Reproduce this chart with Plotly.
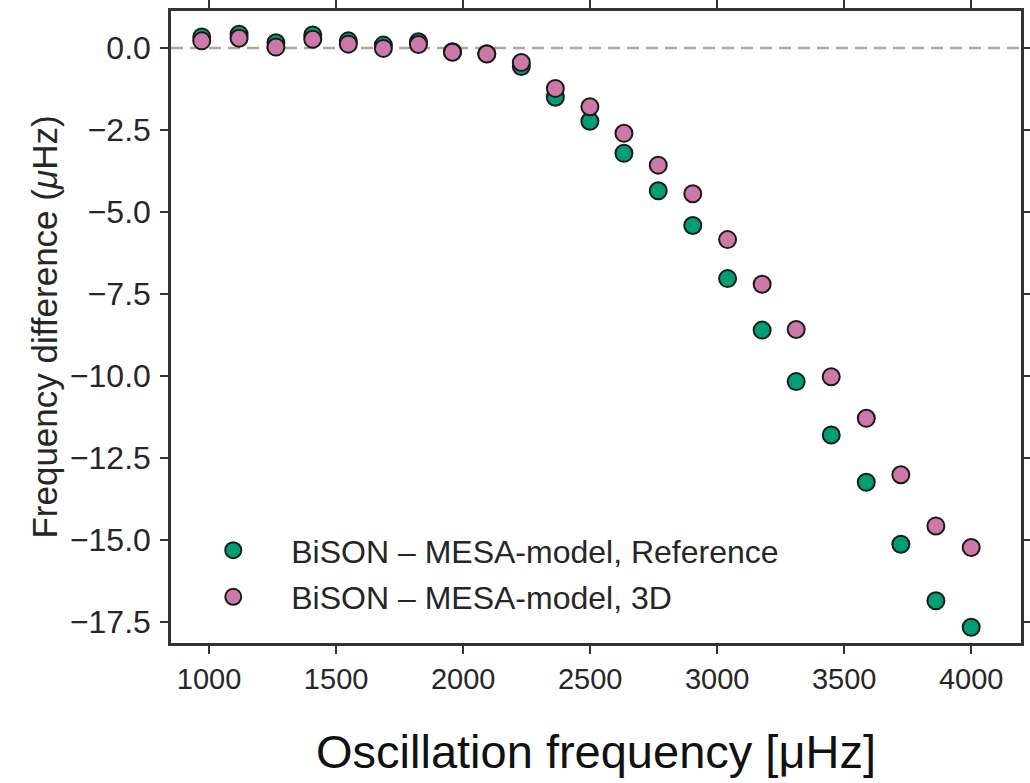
import plotly.graph_objects as go

freq = [971, 1118, 1263, 1408, 1548, 1686, 1824, 1958, 2093, 2229, 2363, 2499,
        2633, 2768, 2904, 3041, 3177, 3311, 3449, 3587, 3723, 3861, 4000]
diff_reference = [0.34, 0.42, 0.16, 0.40, 0.22, 0.09, 0.19, -0.11, -0.17, -0.56, -1.50, -2.23,
                  -3.21, -4.35, -5.41, -7.03, -8.60, -10.17, -11.80, -13.24, -15.13, -16.85, -17.66]
diff_3d = [0.22, 0.30, 0.03, 0.27, 0.12, -0.01, 0.11, -0.13, -0.18, -0.44, -1.23, -1.79,
           -2.60, -3.57, -4.44, -5.84, -7.20, -8.58, -10.02, -11.29, -13.01, -14.57, -15.23]

series_names = ["BiSON \u2013 MESA-model, Reference", "BiSON \u2013 MESA-model, 3D"]
series_colors = ["#009E73", "#CC79A7"]

xticks = [1000, 1500, 2000, 2500, 3000, 3500, 4000]
yticks = [0.0, -2.5, -5.0, -7.5, -10.0, -12.5, -15.0, -17.5]
yticklabels = [("%.1f" % v).replace("-", "\u2212") for v in yticks]

xrange_ = [850, 4196]
yrange_ = [-18.14, 1.13]

font_family = "Liberation Sans, Arial, sans-serif"
axis_color = "#333333"

fig = go.Figure()
for name, vals, col in zip(series_names, [diff_reference, diff_3d], series_colors):
    fig.add_trace(go.Scatter(
        x=freq, y=vals, mode="markers", name=name, legendgroup=name,
        marker=dict(size=17, color=col, line=dict(color="#1a1a1a", width=2)),
    ))

fig.add_hline(y=0, line=dict(color="#aca997", width=2.5, dash="12px,7px"), layer="below")

common = dict(showgrid=False, zeroline=False, tickcolor=axis_color, ticklen=8, tickwidth=1.6,
              automargin=False)

fig.update_layout(
    width=1030, height=783,
    margin=dict(l=171, r=9, t=11, b=140),
    paper_bgcolor="white", plot_bgcolor="white",
    font=dict(family=font_family, color="#262626"),
    showlegend=True,
    legend=dict(x=0.005, y=0.19, xanchor="left", yanchor="top",
                font=dict(size=32, family=font_family, color="#262626"),
                bgcolor="rgba(0,0,0,0)", tracegroupgap=2, itemwidth=106),
    xaxis=dict(range=xrange_, tickvals=xticks, ticks="outside", mirror="ticks",
               showline=True, linecolor=axis_color, linewidth=2.5,
               tickfont=dict(size=29), ticklabelstandoff=0,
               title=dict(text="Oscillation frequency [\u03bcHz]", font=dict(size=47, color="#111111"),
                          standoff=42), **common),
    yaxis=dict(range=yrange_, tickvals=yticks, ticktext=yticklabels, ticks="outside", mirror="ticks",
               showline=True, linecolor=axis_color, linewidth=2.5,
               tickfont=dict(size=32), ticklabelstandoff=3,
               title=dict(text="Frequency difference (<i>\u03bc</i>Hz)", font=dict(size=35, color="#262626"),
                          standoff=2), **common),
    xaxis2=dict(range=xrange_, overlaying="x", tickvals=xticks, ticks="inside", mirror="ticks",
                showline=False, showticklabels=False, **common),
    yaxis2=dict(range=yrange_, overlaying="y", tickvals=yticks, ticks="inside", mirror="ticks",
                showline=False, showticklabels=False, **common),
)

fig.write_html("out.html")
